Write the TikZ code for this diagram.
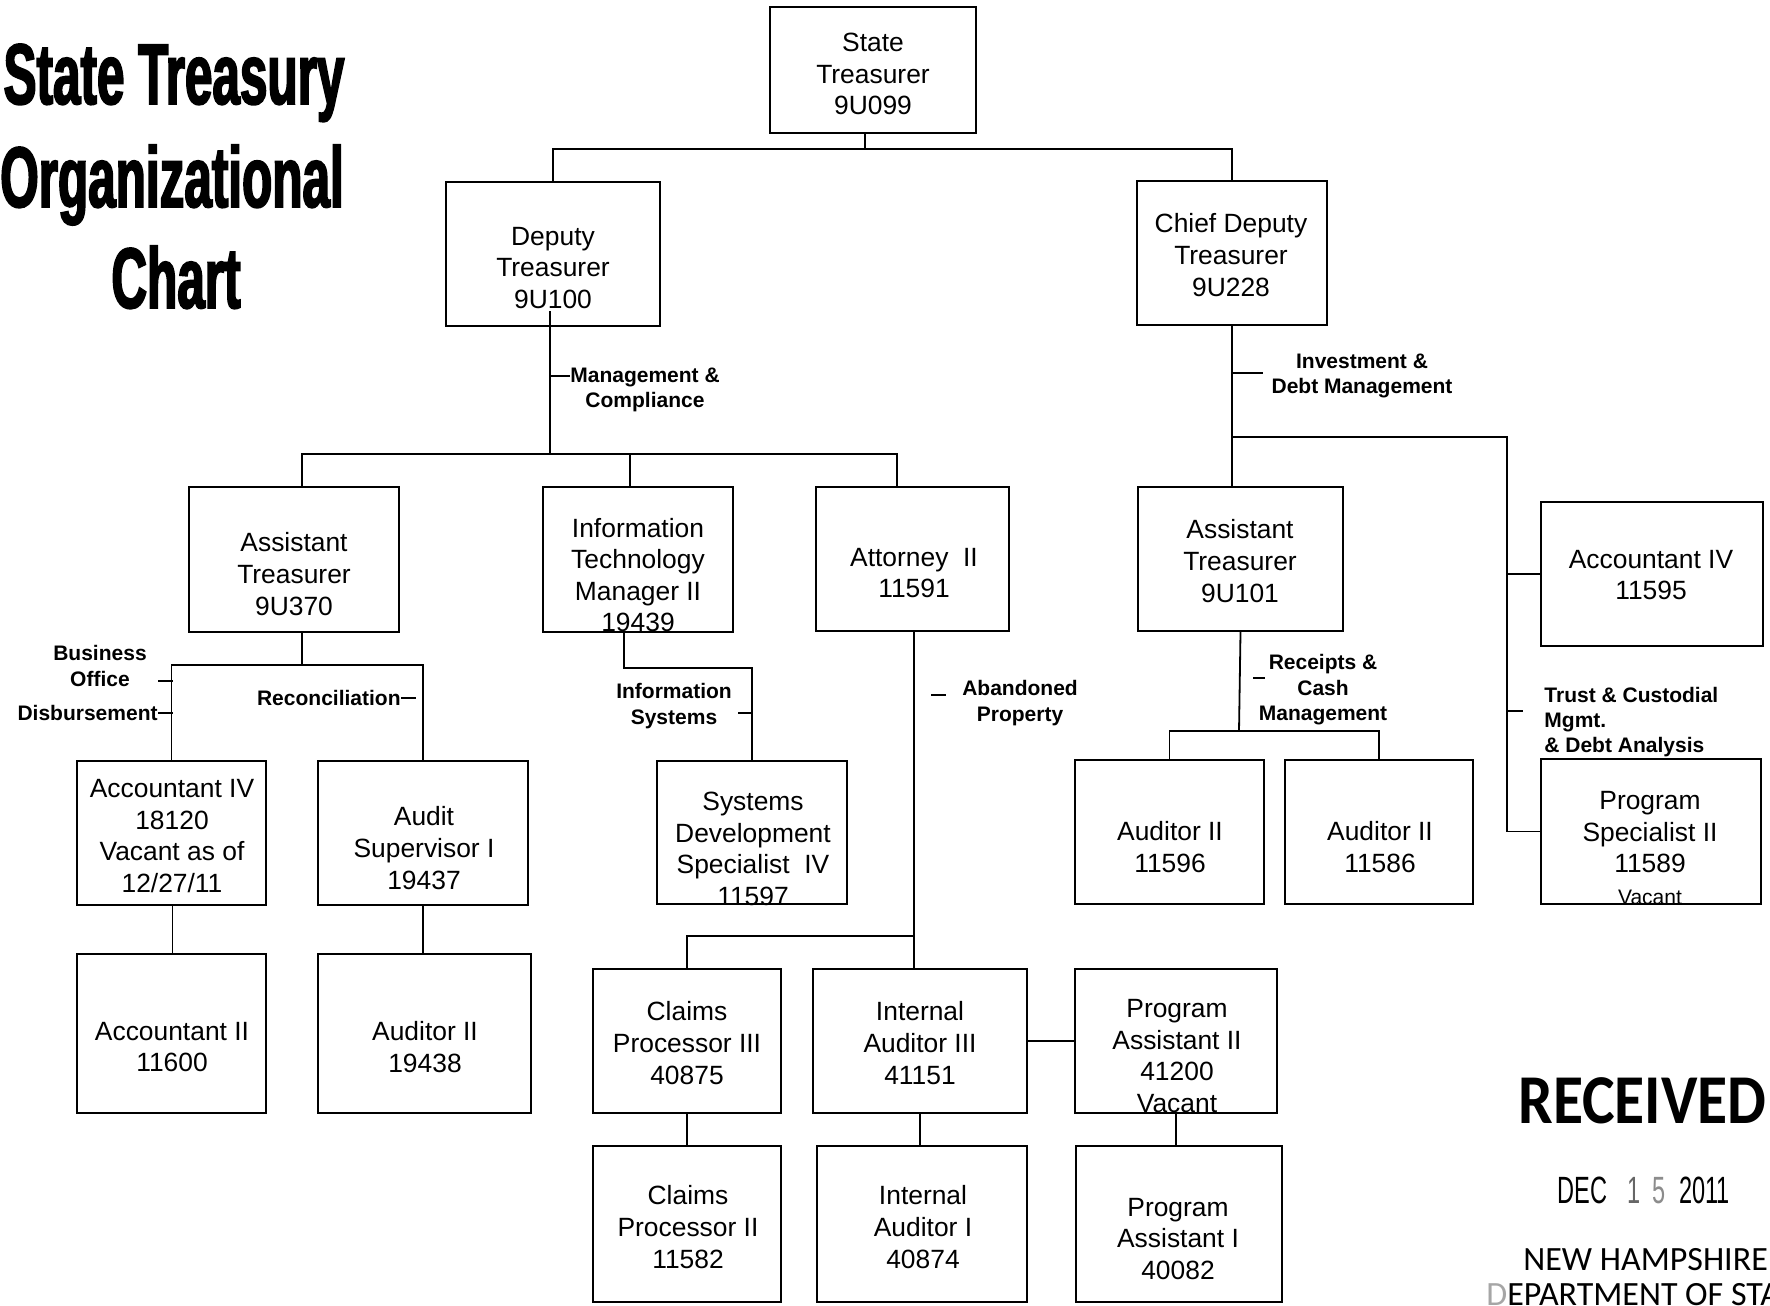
\documentclass[tikz,border=0pt]{standalone}
\usepackage{fontspec}
\setmainfont{Liberation Sans}
\newfontfamily\titlefont[FakeStretch=0.575,BoldFeatures={FakeBold=2}]{Liberation Sans}
\newfontfamily\stampfont[FakeStretch=0.88]{Carlito}
\newfontfamily\nhfont{Carlito}
\newfontfamily\datefont[FakeStretch=0.62]{Liberation Sans}
\usetikzlibrary{fit}
\tikzset{
  orgbox/.style={draw, line width=1.1pt, inner sep=0pt, rectangle},
  boxtxt/.style={align=center, inner sep=0pt, font=\fontsize{13.2}{15.8}\selectfont},
  lbl/.style={align=center, inner sep=0pt, font=\bfseries\fontsize{10.5}{12.7}\selectfont},
  conn/.style={line width=0.9pt},
  tick/.style={line width=0.9pt},
  ttl/.style={anchor=base, inner sep=0pt, font=\titlefont\bfseries\fontsize{43}{51}\selectfont},
}
\newcommand\obox[5]{\node[orgbox, fit={(#2,#3) (#4,#5)}] (#1) {};}
\begin{document}
\begin{tikzpicture}[x=0.5pt,y=-0.5pt]
\useasboundingbox (0,0) rectangle (1770,1305);
\clip (0,0) rectangle (1770,1305);

% ---- title
\node[ttl] (title1) at (174,104) {State Treasury};
\node[ttl] (title2) at (172,207) {Organizational};
\node[ttl] (title3) at (176,308) {Chart};

% ---- boxes
\obox{st}{770}{7}{976}{133}
\obox{dt}{446}{182}{660}{326}
\obox{cdt}{1137}{181}{1327}{325}
\obox{at1}{189}{487}{399}{632}
\obox{it1}{543}{487}{733}{632}
\obox{att}{816}{487}{1009}{631}
\obox{at2}{1138}{487}{1343}{631}
\obox{a4b}{1541}{502}{1763}{646}
\obox{a4}{77}{761}{266}{905}
\obox{as1}{318}{761}{528}{905}
\obox{sds}{657}{761}{847}{904}
\obox{a2a}{1075}{760}{1264}{904}
\obox{a2b}{1285}{760}{1473}{904}
\obox{ps2}{1541}{759}{1761}{904}
\obox{a2}{77}{954}{266}{1113}
\obox{au}{318}{954}{531}{1113}
\obox{cp3}{593}{969}{781}{1113}
\obox{ia3}{813}{969}{1027}{1113}
\obox{pa2}{1075}{969}{1277}{1113}
\obox{cp2}{593}{1146}{781}{1302}
\obox{ia1}{817}{1146}{1027}{1302}
\obox{pa1}{1076}{1146}{1282}{1302}

% ---- box texts
\node[boxtxt] (st-t) at (873,74) {State\\ Treasurer\\ 9U099};
\node[boxtxt] (dt-t) at (553,268) {Deputy\\ Treasurer\\ 9U100};
\node[boxtxt] (cdt-t) at (1231,255) {Chief Deputy\\ Treasurer\\ 9U228};
\node[boxtxt] (at1-t) at (294,574) {Assistant\\ Treasurer\\ 9U370};
\node[boxtxt] (it1-t) at (638,575) {Information\\ Technology\\ Manager II\\ 19439};
\node[boxtxt] (att-t) at (914,573) {Attorney~ II\\ 11591};
\node[boxtxt] (at2-t) at (1240,561) {Assistant\\ Treasurer\\ 9U101};
\node[boxtxt] (a4b-t) at (1651,575) {Accountant IV\\ 11595};
\node[boxtxt] (a4-t) at (172,836) {Accountant IV\\ 18120\\ Vacant as of\\ 12/27/11};
\node[boxtxt] (as1-t) at (424,848) {Audit\\ Supervisor I\\ 19437};
\node[boxtxt] (sds-t) at (753,849) {Systems\\ Development\\ Specialist~ IV\\ 11597};
\node[boxtxt] (a2a-t) at (1170,847) {Auditor II\\ 11596};
\node[boxtxt] (a2b-t) at (1380,847) {Auditor II\\ 11586};
\node[boxtxt] (ps2-t) at (1650,848) {Program\\ Specialist II\\ 11589\\ {\fontsize{10.5}{12}\selectfont Vacant}};
\node[boxtxt] (a2-t) at (172,1047) {Accountant II\\ 11600};
\node[boxtxt] (au-t) at (425,1047) {Auditor II\\ 19438};
\node[boxtxt] (cp3-t) at (687,1043) {Claims\\ Processor III\\ 40875};
\node[boxtxt] (ia3-t) at (920,1043) {Internal\\ Auditor III\\ 41151};
\node[boxtxt] (pa2-t) at (1177,1056) {Program\\ Assistant II\\ 41200\\ Vacant};
\node[boxtxt] (cp2-t) at (688,1227) {Claims\\ Processor II\\ 11582};
\node[boxtxt] (ia1-t) at (923,1227) {Internal\\ Auditor I\\ 40874};
\node[boxtxt] (pa1-t) at (1178,1239) {Program\\ Assistant I\\ 40082};

% ---- labels
\node[lbl] (l-mc) at (645,390) {Management \&\\ Compliance};
\node[lbl] (l-idm) at (1362,376) {Investment \&\\ Debt Management};
\node[lbl] (l-bo) at (100,666) {Business\\ Office};
\node[lbl, anchor=east] (l-dis) at (158,713) {Disbursement};
\node[lbl, anchor=east] (l-rec) at (401,698) {Reconciliation};
\node[lbl] (l-is) at (674,706) {Information\\ Systems};
\node[lbl] (l-ap) at (1020,703) {Abandoned\\ Property};
\node[lbl] (l-rcm) at (1323,690) {Receipts \&\\ Cash\\ Management};
\node[lbl, align=left, anchor=west] (l-tc) at (1544,722) {Trust \& Custodial\\ Mgmt.\\ \& Debt Analysis};

% ---- connectors
\coordinate (j1) at (865,149);
\draw[conn] ([xshift=-4pt]st.south) -- (j1);
\draw[conn] (dt.north) |- (j1) -| (cdt.north);

\coordinate (j2) at (550,454);
\draw[conn] ([xshift=-1.5pt,yshift=8pt]dt.south) -- (j2);
\draw[conn] ([xshift=4pt]at1.north) |- (j2) -| ([xshift=-7.75pt]att.north);
\draw[conn] ([xshift=-4pt]it1.north) -- ([xshift=-4pt]it1.north |- j2);
\coordinate (tk1) at (550,376);
\draw[tick] (tk1) -- (l-mc.west |- tk1);

\draw[conn] (cdt.south) -- (cdt.south |- at2.north);
\coordinate (jr) at (1507,437);
\draw[conn] (cdt.south |- jr) -- (jr) |- (ps2.west);
\draw[conn] (jr |- a4b.west) -- (a4b.west);
\coordinate (tk2) at (1233,373);
\draw[tick] (tk2) -- ++(30,0);
\coordinate (tk3) at (1507,711);
\draw[tick] (tk3) -- ++(16,0);

\coordinate (j3) at (302,665);
\draw[conn] ([xshift=4pt]at1.south) -- (j3);
\draw[conn] (a4.north) |- (j3) -| (as1.north);
\draw[conn] ([xshift=0.5pt]a4.south) -- ([xshift=0.5pt]a2.north);
\draw[conn] (as1.south) -- (as1.south |- au.north);
\coordinate (tk4) at (158,681);
\draw[tick] (tk4) -- ++(15,0);
\draw[tick] (l-dis.east) -- ++(15,0);
\draw[tick] (l-rec.east) -- ++(15,0);

\draw[conn] ([xshift=-7pt]it1.south) -- ++(0,35) -| (sds.north);
\coordinate (tk5) at (738,713);
\draw[tick] (tk5) -- ++(15,0);

\coordinate (j4) at (914,936);
\draw[conn] ([xshift=0.75pt]att.south) -- (j4) -- (j4 |- ia3.north);
\draw[conn] (j4) -| (cp3.north);
\coordinate (tk6) at (931,695);
\draw[tick] (tk6) -- ++(15,0);
\draw[conn] (ia3.east) -- (pa2.west);
\draw[conn] (cp3.south) -- (cp2.north);
\draw[conn] (ia3.south) -- (ia3.south |- ia1.north);
\draw[conn] (pa2.south) -- (pa2.south |- pa1.north);

\coordinate (j5) at (1239,731);
\draw[conn] (at2.south) -- (j5);
\draw[conn] (a2a.north) |- (j5) -| (a2b.north);
\coordinate (tk7) at (1253,678);
\draw[tick] (tk7) -- ++(12,0);

% ---- stamp
\node[anchor=base west, inner sep=0pt, font=\stampfont\bfseries\fontsize{35}{40}\selectfont] (rcv) at (1518,1123) {RECEIVED};
\node[anchor=base west, inner sep=0pt, font=\datefont\fontsize{19}{22}\selectfont] (date) at (1557,1203) {DEC\hspace{10pt}{\color{black!60}1}\hspace{6pt}{\color{black!45}5}\hspace{7pt}2011};
\node[anchor=base west, inner sep=0pt, font=\nhfont\fontsize{17}{20}\selectfont] (nh) at (1523,1270) {NEW HAMPSHIRE};
\node[anchor=base west, inner sep=0pt, font=\nhfont\fontsize{17}{20}\selectfont] (dos) at (1486,1305) {{\color{black!35}D}EPARTMENT OF STATE};
\end{tikzpicture}
\end{document}
